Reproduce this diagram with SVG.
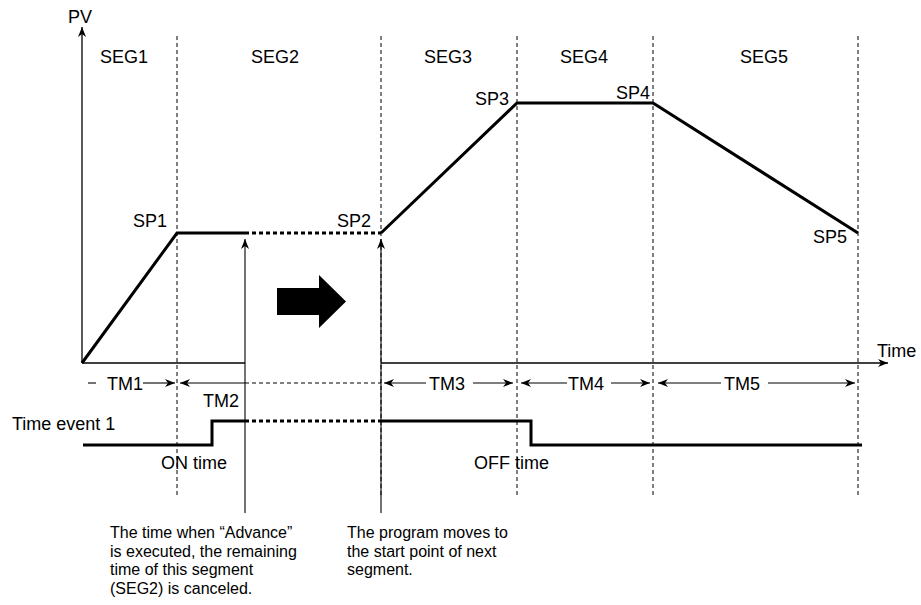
<svg xmlns="http://www.w3.org/2000/svg" width="921" height="605" viewBox="0 0 921 605">
<defs>
<marker id="ah" viewBox="0 0 10 8" refX="10" refY="4" markerUnits="userSpaceOnUse" markerWidth="11" markerHeight="8" orient="auto-start-reverse">
<path d="M0,0 L10,4 L0,8 L3,4 Z" fill="#000"/>
</marker>
</defs>
<style>
.lbl{font-family:"Liberation Sans",Arial,sans-serif;font-size:18px;fill:#000}
.note{font-family:"Liberation Sans",Arial,sans-serif;font-size:16px;fill:#000}
.grid{stroke:#000;stroke-width:1;stroke-dasharray:4 3;fill:none}
.axis{stroke:#000;stroke-width:1.3;fill:none}
.thin{stroke:#000;stroke-width:1.1;fill:none}
.thind{stroke:#000;stroke-width:1.1;fill:none;stroke-dasharray:4 3}
.bold{stroke:#000;stroke-width:3;fill:none;stroke-linejoin:miter}
.boldd{stroke:#000;stroke-width:3;fill:none;stroke-dasharray:4 3}
</style>
<rect width="921" height="605" fill="#fff"/>

<g id="grid">
<line class="grid" x1="177" y1="36" x2="177" y2="498"/>
<line class="grid" x1="381" y1="36" x2="381" y2="498"/>
<line class="grid" x1="517" y1="36" x2="517" y2="498"/>
<line class="grid" x1="653" y1="36" x2="653" y2="498"/>
<line class="grid" x1="858" y1="36" x2="858" y2="498"/>
</g>

<g id="axes">
<line class="axis" x1="82" y1="363" x2="82" y2="27" marker-end="url(#ah)"/>
<line class="axis" x1="82" y1="363" x2="245" y2="363"/>
<line class="axis" x1="381" y1="363" x2="888" y2="363" marker-end="url(#ah)"/>
<text class="lbl" x="68" y="23">PV</text>
<text class="lbl" x="877" y="357">Time</text>
</g>

<g id="segments">
<text class="lbl" x="100" y="63">SEG1</text>
<text class="lbl" x="251" y="63">SEG2</text>
<text class="lbl" x="424" y="63">SEG3</text>
<text class="lbl" x="560" y="63">SEG4</text>
<text class="lbl" x="740" y="63">SEG5</text>
</g>

<g id="profile">
<polyline class="bold" points="82,363 177,233 245,233"/>
<line class="boldd" x1="245" y1="233" x2="381" y2="233"/>
<polyline class="bold" points="381,233 517,103 653,103 858,233"/>
<text class="lbl" x="133" y="227">SP1</text>
<text class="lbl" x="337" y="227">SP2</text>
<text class="lbl" x="475" y="105">SP3</text>
<text class="lbl" x="616" y="99">SP4</text>
<text class="lbl" x="813" y="243">SP5</text>
</g>

<g id="big-arrow">
<polygon points="277,288 319,288 319,275 346,301.5 319,328 319,315 277,315" fill="#000"/>
</g>

<g id="connectors">
<line class="thin" x1="245" y1="513" x2="245" y2="239" marker-end="url(#ah)"/>
<line class="thin" x1="381" y1="513" x2="381" y2="239" marker-end="url(#ah)"/>
</g>

<g id="times">
<line class="thin" x1="88" y1="383" x2="96" y2="383"/>
<text class="lbl" x="107" y="390">TM1</text>
<line class="thin" x1="143" y1="383" x2="175" y2="383" marker-end="url(#ah)"/>
<line class="thin" x1="180" y1="383" x2="245" y2="383" marker-start="url(#ah)"/>
<line class="thind" x1="245" y1="383" x2="381" y2="383"/>
<text class="lbl" x="203" y="407">TM2</text>
<line class="thin" x1="384" y1="383" x2="426" y2="383" marker-start="url(#ah)"/>
<text class="lbl" x="429" y="390">TM3</text>
<line class="thin" x1="473" y1="383" x2="513" y2="383" marker-end="url(#ah)"/>
<line class="thin" x1="521" y1="383" x2="567" y2="383" marker-start="url(#ah)"/>
<text class="lbl" x="568" y="390">TM4</text>
<line class="thin" x1="611" y1="383" x2="650" y2="383" marker-end="url(#ah)"/>
<line class="thin" x1="658" y1="383" x2="721" y2="383" marker-start="url(#ah)"/>
<text class="lbl" x="724" y="390">TM5</text>
<line class="thin" x1="768" y1="383" x2="855" y2="383" marker-end="url(#ah)"/>
</g>

<g id="time-event">
<text class="lbl" x="12" y="430">Time event 1</text>
<polyline class="bold" points="83,445 212,445 212,421 245,421"/>
<line class="boldd" x1="245" y1="421" x2="381" y2="421"/>
<polyline class="bold" points="381,421 531,421 531,445 862,445"/>
<text class="lbl" x="161" y="469">ON time</text>
<text class="lbl" x="474" y="469">OFF time</text>
</g>

<g id="note-advance">
<text class="note" x="110" y="538">The time when “Advance”</text>
<text class="note" x="110" y="556.5">is executed, the remaining</text>
<text class="note" x="110" y="575">time of this segment</text>
<text class="note" x="110" y="593.5">(SEG2) is canceled.</text>
</g>

<g id="note-move">
<text class="note" x="347" y="538">The program moves to</text>
<text class="note" x="347" y="556.5">the start point of next</text>
<text class="note" x="347" y="575">segment.</text>
</g>
</svg>
